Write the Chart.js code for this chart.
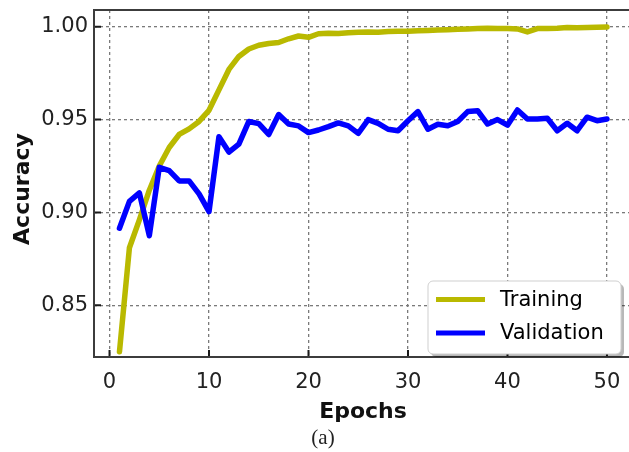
<!DOCTYPE html>
<html>
<head>
<meta charset="utf-8">
<script src="https://cdn.jsdelivr.net/npm/chart.js@4.4.1/dist/chart.umd.min.js"></script>
<style>
    html, body { margin: 0; padding: 0; background: #fff; overflow: hidden; }
    #wrap { width: 629px; height: 452px; overflow: hidden; position: relative; }
    canvas { display: block; position: absolute; left: 0; top: 0; }
</style>
</head>
<body>
<div id="wrap"><canvas id="accuracyChart" width="700" height="452"></canvas></div>
<script>
const epochs = [1, 2, 3, 4, 5, 6, 7, 8, 9, 10, 11, 12, 13, 14, 15, 16, 17, 18, 19, 20,
    21, 22, 23, 24, 25, 26, 27, 28, 29, 30, 31, 32, 33, 34, 35, 36, 37, 38, 39, 40,
    41, 42, 43, 44, 45, 46, 47, 48, 49, 50];

const trainingAcc = [0.825, 0.881, 0.896, 0.912, 0.925, 0.935, 0.942, 0.945, 0.949, 0.955,
    0.966, 0.977, 0.984, 0.988, 0.990, 0.991, 0.9915, 0.9935, 0.995, 0.9943,
    0.9962, 0.9965, 0.9963, 0.9968, 0.9970, 0.9972, 0.9970, 0.9974, 0.9975, 0.9975,
    0.9978, 0.9980, 0.9982, 0.9984, 0.9986, 0.9988, 0.9990, 0.9992, 0.9990, 0.9990,
    0.9988, 0.9972, 0.9990, 0.9990, 0.9992, 0.9996, 0.9995, 0.9996, 0.9997, 0.9998];

const validationAcc = [0.8915, 0.906, 0.9105, 0.8875, 0.9243, 0.9225, 0.917, 0.917, 0.910, 0.9005,
    0.9408, 0.9325, 0.9368, 0.949, 0.9478, 0.942, 0.9527, 0.9476, 0.9466, 0.943,
    0.9444, 0.9462, 0.9482, 0.9466, 0.9426, 0.950, 0.948, 0.9448, 0.944, 0.9494,
    0.9543, 0.9448, 0.9475, 0.9467, 0.949, 0.9543, 0.9548, 0.9476, 0.950, 0.947,
    0.9552, 0.9503, 0.9503, 0.9507, 0.944, 0.948, 0.944, 0.9513, 0.9494, 0.9503];

const xTickValues = [0, 10, 20, 30, 40, 50];
const yTickValues = [0.85, 0.90, 0.95, 1.00];
const seriesNames = ["Training", "Validation"];
const seriesColors = ["#b9b900", "#0000ff"];

const tickFont = { family: "DejaVu Sans", size: 21 };

function toPoints(values) {
    return values.map((v, i) => ({ x: epochs[i], y: v }));
}

// matplotlib style frame (right side is cut off in the figure) with inward ticks
const frameAndTicks = {
    id: "frameAndTicks",
    afterDatasetsDraw(chart) {
        const { ctx, chartArea: a, scales: { x, y } } = chart;
        ctx.save();
        ctx.strokeStyle = "#1a1a1a";
        ctx.lineWidth = 2;
        ctx.beginPath();
        yTickValues.forEach(v => {
            const py = y.getPixelForValue(v);
            ctx.moveTo(a.left, py);
            ctx.lineTo(a.left + 7, py);
        });
        xTickValues.forEach(v => {
            const px = x.getPixelForValue(v);
            ctx.moveTo(px, a.bottom);
            ctx.lineTo(px, a.bottom - 7);
        });
        ctx.stroke();
        ctx.strokeStyle = "#3c3c3c";
        ctx.beginPath();
        ctx.moveTo(a.right + 5, a.top);
        ctx.lineTo(a.left, a.top);
        ctx.lineTo(a.left, a.bottom);
        ctx.lineTo(a.right + 5, a.bottom);
        ctx.stroke();
        ctx.restore();
    }
};

function roundRect(ctx, x, y, w, h, r) {
    ctx.beginPath();
    ctx.moveTo(x + r, y);
    ctx.arcTo(x + w, y, x + w, y + h, r);
    ctx.arcTo(x + w, y + h, x, y + h, r);
    ctx.arcTo(x, y + h, x, y, r);
    ctx.arcTo(x, y, x + w, y, r);
    ctx.closePath();
}

const legendBox = {
    id: "legendBox",
    afterDraw(chart) {
        const { ctx } = chart;
        const bx = 428, by = 281, bw = 193, bh = 73;
        ctx.save();
        ctx.fillStyle = "rgba(0, 0, 0, 0.28)";
        roundRect(ctx, bx + 3, by + 3, bw, bh, 5);
        ctx.fill();
        ctx.fillStyle = "#ffffff";
        roundRect(ctx, bx, by, bw, bh, 5);
        ctx.fill();
        ctx.strokeStyle = "#cfcfcf";
        ctx.lineWidth = 1;
        ctx.stroke();

        ctx.font = "21px 'DejaVu Sans'";
        ctx.textBaseline = "middle";
        ctx.textAlign = "left";
        seriesNames.forEach((name, i) => {
            const ly = by + 18.5 + i * 33.5;
            ctx.strokeStyle = seriesColors[i];
            ctx.lineWidth = 5;
            ctx.beginPath();
            ctx.moveTo(436, ly);
            ctx.lineTo(485, ly);
            ctx.stroke();
            ctx.fillStyle = "#000";
            ctx.fillText(name, 500, ly + 1);
        });
        ctx.restore();
    }
};

const axisTitles = {
    id: "axisTitles",
    afterDraw(chart) {
        const { ctx } = chart;
        ctx.save();
        ctx.fillStyle = "#111";
        ctx.textAlign = "center";
        ctx.textBaseline = "middle";
        ctx.font = "bold 22px 'DejaVu Sans'";
        ctx.fillText("Epochs", 363, 412);
        ctx.save();
        ctx.translate(23, 189);
        ctx.rotate(-Math.PI / 2);
        ctx.fillText("Accuracy", 0, 0);
        ctx.restore();
        ctx.font = "21px 'Liberation Serif'";
        ctx.fillStyle = "#222";
        ctx.fillText("(a)", 323, 438);
        ctx.restore();
    }
};

function makeDataset(i, values, order) {
    return {
        label: seriesNames[i],
        data: toPoints(values),
        borderColor: seriesColors[i],
        backgroundColor: seriesColors[i],
        borderWidth: 5.5,
        pointRadius: 0,
        tension: 0,
        borderJoinStyle: "round",
        borderCapStyle: "round",
        order: order
    };
}

new Chart(document.getElementById("accuracyChart"), {
    type: "line",
    data: {
        datasets: [
            makeDataset(0, trainingAcc, 1),
            makeDataset(1, validationAcc, 0)
        ]
    },
    options: {
        responsive: false,
        animation: false,
        devicePixelRatio: 1,
        layout: { padding: { top: 10, left: 0, right: 0, bottom: 0 } },
        plugins: { legend: { display: false }, tooltip: { enabled: false } },
        scales: {
            x: {
                type: "linear",
                min: -1.56,
                max: 59.35,
                afterBuildTicks: s => { s.ticks = xTickValues.map(v => ({ value: v })); },
                afterFit: s => { s.height = 95; s.paddingLeft = 0; s.paddingRight = 0; },
                ticks: { font: tickFont, color: "#222", padding: 13, maxRotation: 0 },
                grid: { color: "#7a7a7a", lineWidth: 1.3, drawTicks: false },
                border: { display: false, dash: [3, 3] }
            },
            y: {
                min: 0.8222,
                max: 1.009,
                afterBuildTicks: s => { s.ticks = yTickValues.map(v => ({ value: v })); },
                afterFit: s => { s.width = 94; s.paddingTop = 0; s.paddingBottom = 0; },
                ticks: { font: tickFont, color: "#222", padding: 6, callback: v => v.toFixed(2) },
                grid: { color: "#7a7a7a", lineWidth: 1.3, drawTicks: false },
                border: { display: false, dash: [3, 3] }
            }
        }
    },
    plugins: [frameAndTicks, legendBox, axisTitles]
});
</script>
</body>
</html>
